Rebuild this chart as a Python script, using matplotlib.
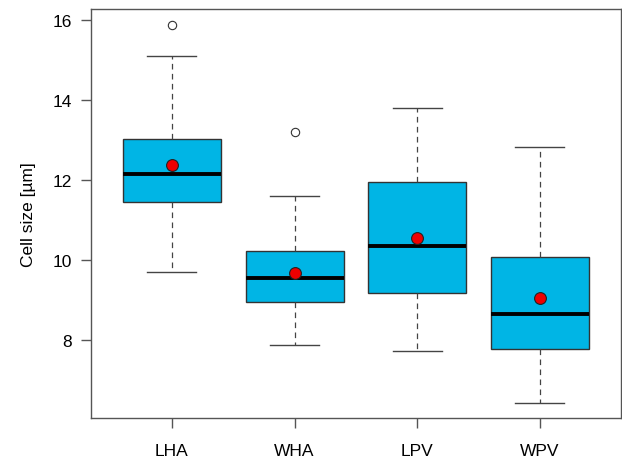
import matplotlib
matplotlib.use("Agg")
import matplotlib.pyplot as plt

plt.rcParams['font.family'] = ['Liberation Sans', 'DejaVu Sans']

# box statistics per group (cell size in µm)
groups = ['LHA', 'WHA', 'LPV', 'WPV']
whisker_low = [9.69, 7.88, 7.72, 6.43]
q1 = [11.46, 8.94, 9.18, 7.77]
medians = [12.15, 9.54, 10.34, 8.64]
q3 = [13.04, 10.23, 11.96, 10.08]
whisker_high = [15.10, 11.61, 13.80, 12.82]
means = [12.38, 9.67, 10.55, 9.05]
outliers = [[15.88], [13.20], [], []]

stats = []
for i, name in enumerate(groups):
    stats.append(dict(label=name, whislo=whisker_low[i], q1=q1[i], med=medians[i],
                      q3=q3[i], whishi=whisker_high[i], mean=means[i],
                      fliers=outliers[i]))

fig = plt.figure(figsize=(6.22, 4.6), dpi=100)
ax = fig.add_axes([0.1463, 0.0891, 0.8517, 0.8892])

positions = range(1, len(groups) + 1)
ax.bxp(stats, positions=positions, widths=0.8, patch_artist=True,
       showmeans=True, showcaps=True,
       boxprops=dict(facecolor='#00b5e5', edgecolor='#333333', linewidth=1.0),
       medianprops=dict(color='black', linewidth=2.8, solid_capstyle='butt'),
       whiskerprops=dict(color='#444444', linewidth=0.9, linestyle=(0, (4.5, 3.5))),
       capprops=dict(color='#444444', linewidth=1.0),
       capwidths=0.4,
       meanprops=dict(marker='o', markerfacecolor='#ee0000', markeredgecolor='#222222',
                      markersize=8.5, markeredgewidth=0.8),
       flierprops=dict(marker='o', markerfacecolor='none', markeredgecolor='#333333',
                       markersize=6, markeredgewidth=0.8))

ax.set_xlim(0.34, 4.66)
ax.set_ylim(6.05, 16.28)
ax.set_yticks([8, 10, 12, 14, 16])
ax.set_xticks(list(positions))
ax.set_xticklabels(groups)
ax.set_ylabel('Cell size [µm]', fontsize=12.5, labelpad=12)

for side in ['left', 'bottom', 'right', 'top']:
    ax.spines[side].set_color('#555555')
    ax.spines[side].set_linewidth(1.0)
ax.tick_params(axis='both', colors='#555555', labelcolor='black', labelsize=12.5,
               length=7, width=1.0)
ax.tick_params(axis='x', pad=11)
ax.tick_params(axis='y', pad=7)

fig.savefig('out.png', dpi=100)
